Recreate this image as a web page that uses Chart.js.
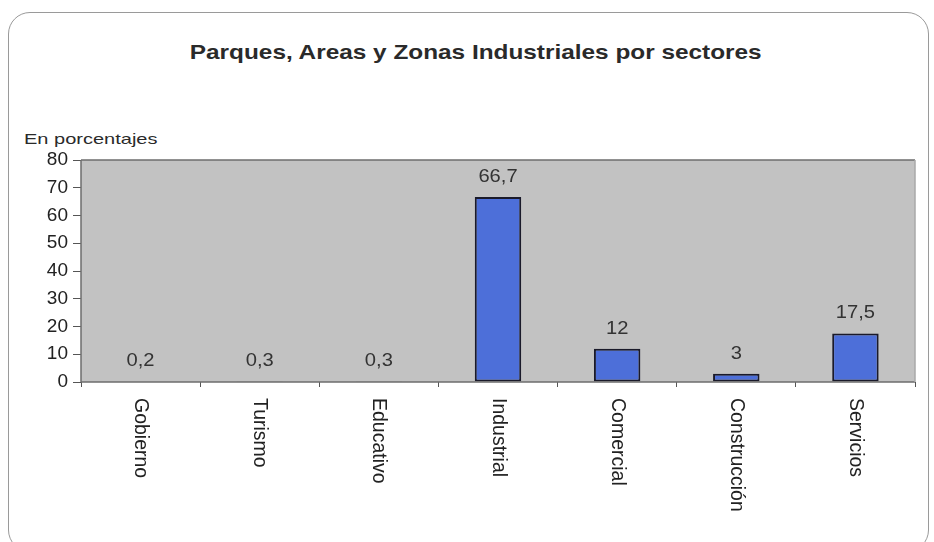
<!DOCTYPE html>
<html>
<head>
<meta charset="utf-8">
<script src="https://cdn.jsdelivr.net/npm/chart.js@4.4.1/dist/chart.umd.min.js"></script>
<style>
  html, body { margin: 0; padding: 0; background: #fff; }
  #wrap { position: relative; width: 934px; height: 542px; overflow: hidden; font-family: "Liberation Sans", Arial, sans-serif; }
  #frame { position: absolute; left: 8px; top: 12px; width: 921px; height: 540px; border: 1.5px solid #9a9a9a; border-radius: 22px; box-sizing: border-box; }
  #title { position: absolute; left: 8px; width: 938px; top: 40px; line-height: 24px; text-align: center; font-weight: bold; font-size: 21px; color: #2a2a2a; transform: scaleX(1.16); transform-origin: 477px 0; }
  #unit { position: absolute; left: 24px; top: 130px; line-height: 18px; font-size: 14.5px; color: #2a2a2a; transform: scaleX(1.38); transform-origin: 0 0; }
  canvas { position: absolute; left: 0; top: 0; }
</style>
</head>
<body>
<div id="wrap">
  <div id="frame"></div>
  <div id="title">Parques, Areas y Zonas Industriales por sectores</div>
  <div id="unit">En porcentajes</div>
  <canvas id="c" width="934" height="542"></canvas>
</div>
<script>
// sectors and share of parks (percent)
const sectors = ["Gobierno", "Turismo", "Educativo", "Industrial", "Comercial", "Construcción", "Servicios"];
const shares = [0.2, 0.3, 0.3, 66.7, 12, 3, 17.5];
const yTicks = [0, 10, 20, 30, 40, 50, 60, 70, 80];

const FONT = '"Liberation Sans", Arial, sans-serif';
const fmtEs = v => String(v).replace(".", ",");

// gray plot background + border
const plotBg = {
  id: "plotBg",
  beforeDraw(chart) {
    const { ctx, chartArea: a } = chart;
    ctx.save();
    ctx.fillStyle = "#c2c2c2";
    ctx.fillRect(a.left, a.top, a.right - a.left, a.bottom - a.top);
    ctx.restore();
  },
  afterDraw(chart) {
    const { ctx, chartArea: a } = chart;
    ctx.save();
    ctx.strokeStyle = "#6e6e6e";
    ctx.lineWidth = 1.5;
    ctx.beginPath();
    ctx.moveTo(a.left, a.top); ctx.lineTo(a.right, a.top);
    ctx.moveTo(a.left, a.bottom); ctx.lineTo(a.right, a.bottom);
    ctx.moveTo(a.left, a.top); ctx.lineTo(a.left, a.bottom);
    ctx.stroke();
    ctx.strokeStyle = "#a8a8a8";
    ctx.beginPath(); ctx.moveTo(a.right, a.top); ctx.lineTo(a.right, a.bottom); ctx.stroke();
    ctx.restore();
  }
};

// value labels above bars, category labels rotated clockwise
const labelsPlugin = {
  id: "labelsPlugin",
  afterDatasetsDraw(chart) {
    const { ctx } = chart;
    const meta = chart.getDatasetMeta(0);
    const x = chart.scales.x;
    ctx.save();
    ctx.fillStyle = "#333";
    ctx.font = "18px " + FONT;
    ctx.textAlign = "center";
    ctx.textBaseline = "middle";
    meta.data.forEach((bar, i) => {
      ctx.save();
      ctx.translate(bar.x, bar.y - 20);
      ctx.scale(1.12, 1);
      ctx.fillText(fmtEs(shares[i]), 0, 0);
      ctx.restore();
    });
    ctx.font = "19.5px " + FONT;
    ctx.fillStyle = "#222";
    ctx.textAlign = "left";
    sectors.forEach((s, i) => {
      ctx.save();
      ctx.translate(x.getPixelForTick(i), chart.chartArea.bottom + 16);
      ctx.rotate(Math.PI / 2);
      ctx.fillText(s, 0, 0);
      ctx.restore();
    });
    ctx.restore();
  }
};

new Chart(document.getElementById("c"), {
  type: "bar",
  data: {
    labels: sectors,
    datasets: [{
      data: shares,
      backgroundColor: "#4d6fd9",
      borderColor: "#1a1a2a",
      borderWidth: 2,
      borderSkipped: false,
      categoryPercentage: 1,
      barPercentage: 0.39,
    }],
  },
  options: {
    responsive: false,
    animation: false,
    layout: { padding: { top: 160, right: 19, bottom: 0, left: 0 } },
    plugins: { legend: { display: false }, tooltip: { enabled: false } },
    scales: {
      x: {
        afterFit: s => { s.height = 160; },
        ticks: { display: false },
        grid: { offset: true, drawOnChartArea: false, drawTicks: true, tickLength: 5, color: "#555" },
        border: { display: false },
      },
      y: {
        min: 0, max: 80,
        afterFit: s => { s.width = 81; },
        afterBuildTicks: s => { s.ticks = yTicks.map(v => ({ value: v })); },
        ticks: { color: "#222", font: { family: FONT, size: 19 }, padding: 5 },
        grid: { drawOnChartArea: false, drawTicks: true, tickLength: 8, color: "#555" },
        border: { display: false },
      },
    },
  },
  plugins: [plotBg, labelsPlugin],
});
</script>
</body>
</html>
